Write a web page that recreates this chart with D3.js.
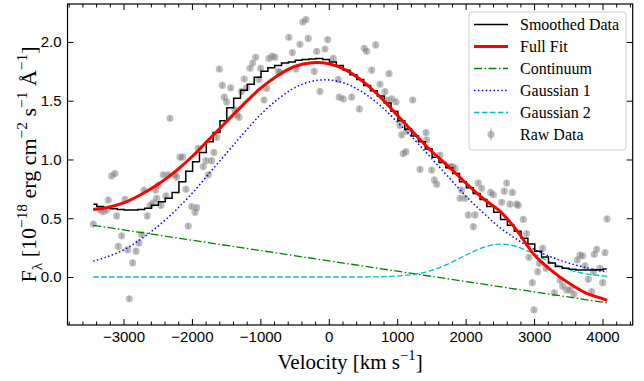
<!DOCTYPE html>
<html>
<head>
<meta charset="utf-8">
<script src="https://cdn.jsdelivr.net/npm/d3@7"></script>
<style>
body { margin: 0; background: #fff; }
svg { display: block; font-family: "Liberation Serif", "DejaVu Serif", serif; }
</style>
</head>
<body>
<svg id="chart"></svg>
<script>
// raw data points (velocity, flux)
const rawV = [-3441, -3344, -3295, -3246, -3222, -3173, -3124, -3100, -3076, -3027, -2978, -2939, -2915, -2866, -2817, -2774, -2734, -2700,
  -2652, -2613, -2564, -2530, -2515, -2491, -2452, -2418, -2379, -2345, -2321, -2247, -2223, -2174, -2135, -2087, -2053, -2004, -1955,
  -1930, -1907, -1834, -1795, -1761, -1712, -1678, -1638, -1600, -1556, -1527, -1492, -1434, -1371, -1346, -1312, -1273, -1235, -1200,
  -1152, -1112, -1068, -1020, -996, -947, -908, -874, -826, -786, -738, -713, -582, -533, -479, -421, -381, -333, -300, -212, -177,
  -129, -56, -16, 66, 139, 153, 212, 335, 446, 519, 553, 627, 685, 748, 821, 846, 880, 919, 982, 1040, 1065, 1089, 1128, 1138, 1226,
  1333, 1420, 1430, 1504, 1542, 1577, 1625, 1771, 1810, 1844, 1917, 1942, 1990, 2039, 2112, 2137, 2185, 2234, 2366, 2404, 2527, 2565,
  2600, 2648, 2682, 2745, 2770, 2842, 2892, 2926, 2974, 2999, 3053, 3077, 3126, 3174, 3296, 3379, 3418, 3476, 3530, 3583, 3632, 3671,
  3710, 3744, 3792, 3842, 3866, 3880, 3915, 3963, 4003, 4036, 4066];
const rawF = [0.45, 0.57, 0.556, 0.57, 0.655, 0.86, 0.88, 0.52, 0.26, 0.35, 0.66, 0.23, -0.185, 0.12, 0.22, 0.29, 0.36, 0.74,
  0.52, 0.61, 0.63, 0.74, 0.67, 0.78, 0.61, 0.87, 0.69, 0.87, 1.35, 0.87, 0.85, 1.02, 1.02, 0.746, 0.434, 0.60, 0.55,
  0.59, 1.095, 0.94, 0.99, 0.87, 0.99, 1.06, 1.19, 1.77, 1.63, 1.53, 1.49, 1.61, 1.42, 1.38, 1.36, 1.58, 1.685, 1.61,
  1.776, 1.82, 1.87, 1.68, 1.776, 1.506, 1.606, 1.86, 1.88, 1.87, 1.75, 1.74, 2.04, 1.91, 1.77, 1.98, 2.17, 2.19, 2.03, 1.75, 1.92,
  1.58, 1.94, 2.02, 1.86, 1.68, 1.53, 1.515, 1.53, 1.43, 1.946, 1.92, 1.76, 1.975, 1.64, 1.577, 1.506, 1.73, 1.515, 1.49, 1.29, 1.21, 1.05, 1.066, 1.24, 1.506,
  0.916, 1.228, 1.166, 0.91, 0.826, 0.79, 1.038, 0.94, 0.94, 0.925, 0.67, 0.74, 0.67, 0.528, 0.428, 0.528, 0.80, 0.755, 0.72, 0.70, 0.636, 0.73,
  0.80, 0.62, 0.72, 0.62, 0.61, 0.49, 0.37, 0.167, -0.048, -0.28, 0.045, 0.116, 0.244, 0.074, -0.134, -0.026, -0.077, -0.11, -0.11, -0.145, 0.145, 0.187,
  0.18, 0.094, -0.02, -0.125, 0.045, 0.193, 0.236, 0.074, -0.048, 0.207, 0.494];
const rawErr = 0.022;

// smoothed spectrum (step line)
const smoothV = [-3440, -3340, -3240, -3140, -3040, -2940, -2840, -2740, -2640, -2540, -2440, -2340, -2240, -2140, -2040, -1940,
  -1840, -1740, -1640, -1540, -1440, -1340, -1240, -1140, -1040, -940, -840, -740, -640, -540, -440, -340, -240, -140, -40,
  60, 160, 260, 360, 460, 560, 660, 760, 860, 960, 1060, 1160, 1260, 1360, 1460, 1560, 1660, 1760, 1860, 1960, 2060, 2160,
  2260, 2360, 2460, 2560, 2660, 2760, 2860, 2960, 3060, 3160, 3260, 3360, 3460, 3560, 3660, 3760, 3860, 3960, 4060];
const smoothF = [0.62, 0.60, 0.59, 0.58, 0.575, 0.57, 0.57, 0.575, 0.585, 0.61, 0.64, 0.67, 0.72, 0.81, 0.90, 0.98,
  1.06, 1.15, 1.23, 1.33, 1.44, 1.52, 1.59, 1.64, 1.70, 1.75, 1.78, 1.80, 1.82, 1.83, 1.845, 1.85, 1.855, 1.86, 1.85,
  1.83, 1.80, 1.76, 1.72, 1.68, 1.63, 1.585, 1.54, 1.48, 1.41, 1.33, 1.26, 1.20, 1.15, 1.09, 1.02, 0.975, 0.93, 0.88, 0.81, 0.76, 0.71,
  0.66, 0.60, 0.55, 0.49, 0.44, 0.39, 0.33, 0.28, 0.22, 0.17, 0.12, 0.09, 0.075, 0.065, 0.06, 0.06, 0.06, 0.062, 0.068];

// fit components
const fitV = [-3443, -3250, -3000, -2750, -2500, -2250, -2000, -1750, -1500, -1250, -1000, -750, -500, -250, 0,
  250, 500, 750, 1000, 1250, 1500, 1750, 2000, 2250, 2500, 2750, 3000, 3250, 3500, 3750, 4000, 4066];
const fullFitF = [0.575, 0.59, 0.63, 0.70, 0.787, 0.895, 1.023, 1.171, 1.319, 1.467, 1.605, 1.713, 1.791, 1.824, 1.814,
  1.760, 1.663, 1.533, 1.377, 1.22, 1.07, 0.94, 0.80, 0.67, 0.56, 0.395, 0.19, 0.057, -0.05, -0.135, -0.185, -0.198];
const gauss1F = [0.135, 0.17, 0.23, 0.32, 0.43, 0.56, 0.71, 0.88, 1.05, 1.22, 1.38, 1.51, 1.61, 1.665, 1.677,
  1.645, 1.57, 1.46, 1.32, 1.17, 1.01, 0.85, 0.69, 0.55, 0.42, 0.32, 0.235, 0.17, 0.12, 0.08, 0.05, 0.045];
const gauss2F = [0, 0, 0, 0, 0, 0, 0, 0, 0, 0, 0, 0, 0, 0, 0,
  0, 0, 0.002, 0.008, 0.023, 0.056, 0.112, 0.185, 0.25, 0.28, 0.258, 0.196, 0.123, 0.064, 0.027, 0.01, 0.007];
const continuumV = [-3443, 4066];
const continuumF = [0.44, -0.22];

const xTicks = [-3000, -2000, -1000, 0, 1000, 2000, 3000, 4000];
const yTicks = [0, 0.5, 1.0, 1.5, 2.0];

const W = 644, H = 381;
const margin = {top: 4, right: 11.3, bottom: 56, left: 67.5};
const width = W - margin.left - margin.right;
const height = H - margin.top - margin.bottom;

const svg = d3.select('#chart')
    .attr('width', W)
    .attr('height', H);

const g = svg.append('g')
    .attr('transform', `translate(${margin.left},${margin.top})`);

const x = d3.scaleLinear().domain([-3818, 4441]).range([0, width]);
const y = d3.scaleLinear().domain([-0.4085, 2.323]).range([height, 0]);

svg.append('defs').append('clipPath').attr('id', 'clip')
    .append('rect').attr('width', width).attr('height', height);

const plot = g.append('g').attr('clip-path', 'url(#clip)');

// raw data with error bars
const raw = rawV.map((v, i) => ({v, f: rawF[i]}));
plot.append('g').selectAll('line')
    .data(raw)
    .join('line')
    .attr('x1', d => x(d.v)).attr('x2', d => x(d.v))
    .attr('y1', d => y(d.f - rawErr)).attr('y2', d => y(d.f + rawErr))
    .attr('stroke', 'gray').attr('stroke-opacity', 0.5).attr('stroke-width', 1.5);
plot.append('g').selectAll('circle')
    .data(raw)
    .join('circle')
    .attr('cx', d => x(d.v))
    .attr('cy', d => y(d.f))
    .attr('r', 3.6)
    .attr('fill', 'gray')
    .attr('fill-opacity', 0.5);

const line = d3.line().x(d => x(d[0])).y(d => y(d[1]));
const pairs = (vs, fs) => vs.map((v, i) => [v, fs[i]]);

const series = [
  {label: 'Smoothed Data', data: pairs(smoothV, smoothF), color: 'black', width: 1.5, dash: null, curve: d3.curveStep},
  {label: 'Full Fit', data: pairs(fitV, fullFitF), color: 'red', width: 3, dash: null, curve: d3.curveCatmullRom},
  {label: 'Continuum', data: pairs(continuumV, continuumF), color: '#008000', width: 1.3, dash: '8,2.5,1.5,2.5', curve: d3.curveLinear},
  {label: 'Gaussian 1', data: pairs(fitV, gauss1F), color: '#0000ff', width: 1.5, dash: '1.5,2.4', curve: d3.curveCatmullRom},
  {label: 'Gaussian 2', data: pairs(fitV, gauss2F), color: '#00bfbf', width: 1.3, dash: '5.5,2.5', curve: d3.curveCatmullRom}
];

// draw order: components under the main lines
[2, 3, 4, 0, 1].forEach(i => {
  const s = series[i];
  plot.append('path')
      .datum(s.data)
      .attr('fill', 'none')
      .attr('stroke', s.color)
      .attr('stroke-width', s.width)
      .attr('stroke-dasharray', s.dash)
      .attr('d', line.curve(s.curve));
});

// axes, ticks pointing inward on all sides
const minorX = d3.range(-3800, 4401, 200).filter(v => v % 1000 !== 0);

function styleAxis(sel) {
  sel.select('.domain').remove();
  sel.selectAll('line').attr('stroke', 'black').attr('stroke-width', 1);
  sel.selectAll('text').attr('fill', 'black').style('font-size', '15px');
}

g.append('g')
    .attr('transform', `translate(0,${height})`)
    .call(d3.axisBottom(x).tickValues(xTicks).tickSizeInner(-6).tickSizeOuter(0).tickPadding(6).tickFormat(d3.format('d')))
    .call(styleAxis);
g.append('g')
    .attr('transform', `translate(0,${height})`)
    .call(d3.axisBottom(x).tickValues(minorX).tickSizeInner(-3.5).tickSizeOuter(0).tickFormat(''))
    .call(styleAxis);
g.append('g')
    .call(d3.axisTop(x).tickValues(xTicks).tickSizeInner(-6).tickSizeOuter(0).tickFormat(''))
    .call(styleAxis);
g.append('g')
    .call(d3.axisTop(x).tickValues(minorX).tickSizeInner(-3.5).tickSizeOuter(0).tickFormat(''))
    .call(styleAxis);
g.append('g')
    .call(d3.axisLeft(y).tickValues(yTicks).tickSizeInner(-6).tickSizeOuter(0).tickPadding(6).tickFormat(d3.format('.1f')))
    .call(styleAxis);
g.append('g')
    .attr('transform', `translate(${width},0)`)
    .call(d3.axisRight(y).tickValues(yTicks).tickSizeInner(-6).tickSizeOuter(0).tickFormat(''))
    .call(styleAxis);

g.append('rect')
    .attr('width', width)
    .attr('height', height)
    .attr('fill', 'none')
    .attr('stroke', 'black')
    .attr('stroke-width', 1.2);

// label with sub/superscripts
function richText(sel, parts, size) {
  let shift = 0;
  parts.forEach(p => {
    const target = p.sup ? -0.42 * size : p.sub ? 0.25 * size : 0;
    sel.append('tspan')
        .attr('dy', target - shift)
        .style('font-size', (p.sup || p.sub ? size * 0.7 : size) + 'px')
        .text(p.t);
    shift = target;
  });
}

const xl = svg.append('text')
    .attr('x', margin.left + width / 2)
    .attr('y', 369)
    .attr('text-anchor', 'middle')
    .style('font-size', '21px');
richText(xl, [{t: 'Velocity [km s'}, {t: '−1', sup: true}, {t: ']'}], 21);

const yl = svg.append('text')
    .attr('transform', `translate(36,${margin.top + height / 2}) rotate(-90)`)
    .attr('text-anchor', 'middle')
    .style('font-size', '22px');
richText(yl, [{t: 'F'}, {t: 'λ', sub: true}, {t: ' [10'}, {t: '−18', sup: true}, {t: ' erg cm'}, {t: '−2', sup: true},
  {t: ' s'}, {t: '−1', sup: true}, {t: ' Å'}, {t: '−1', sup: true}, {t: ']'}], 22);

// legend
const legend = svg.append('g').attr('transform', 'translate(469,12)');
legend.append('rect')
    .attr('width', 157).attr('height', 138).attr('rx', 3)
    .attr('fill', 'white').attr('fill-opacity', 0.8)
    .attr('stroke', '#cccccc').attr('stroke-width', 1);

const rows = series.map(s => s.label).concat(['Raw Data']);
rows.forEach((label, i) => {
  const ry = 12.5 + i * 22;
  const row = legend.append('g').attr('transform', `translate(0,${ry})`);
  if (i < series.length) {
    const s = series[i];
    row.append('line')
        .attr('x1', 5).attr('x2', 39)
        .attr('stroke', s.color)
        .attr('stroke-width', s.width)
        .attr('stroke-dasharray', s.dash);
  } else {
    row.append('line').attr('x1', 22).attr('x2', 22).attr('y1', -6).attr('y2', 6)
        .attr('stroke', 'gray').attr('stroke-opacity', 0.5).attr('stroke-width', 1.5);
    row.append('circle').attr('cx', 22).attr('r', 3.6).attr('fill', 'gray').attr('fill-opacity', 0.5);
  }
  row.append('text')
      .attr('x', 51)
      .attr('dy', '0.35em')
      .style('font-size', '16px')
      .text(label);
});
</script>
</body>
</html>
